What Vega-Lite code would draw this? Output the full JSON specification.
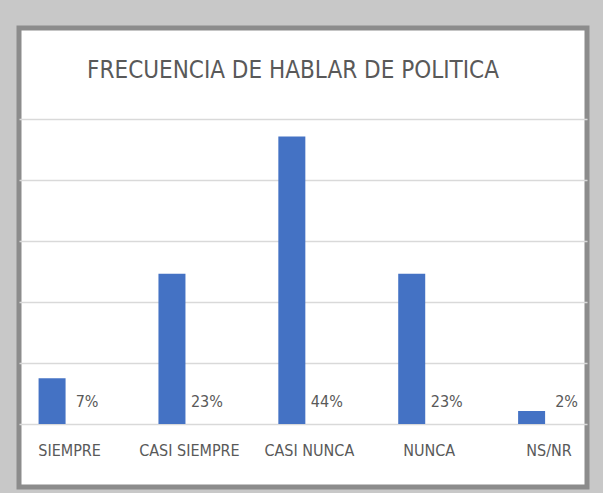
{
  "$schema": "https://vega.github.io/schema/vega-lite/v6.json",
  "width": 568,
  "height": 459,
  "autosize": "none",
  "padding": {"left": 19, "top": 28, "right": 16, "bottom": 6},
  "background": "#c8c8c8",
  "title": {
    "text": "FRECUENCIA DE HABLAR DE POLITICA",
    "anchor": "middle",
    "offset": -74,
    "dx": -10,
    "baseline": "alphabetic",
    "fontSize": 24,
    "font": "Liberation Sans Narrow, DejaVu Sans Condensed, Liberation Sans",
    "fontWeight": "normal",
    "color": "#595959"
  },
  "data": {
    "values": [
      {"categoria": "SIEMPRE", "pct": 7},
      {"categoria": "CASI SIEMPRE", "pct": 23},
      {"categoria": "CASI NUNCA", "pct": 44},
      {"categoria": "NUNCA", "pct": 23},
      {"categoria": "NS/NR", "pct": 2}
    ]
  },
  "encoding": {
    "x": {
      "field": "categoria",
      "type": "nominal",
      "sort": null,
      "scale": {"type": "point", "padding": 0.369, "align": 0.566},
      "axis": {
        "title": null,
        "offset": -63,
        "domain": false,
        "ticks": false,
        "grid": false,
        "labelPadding": 18,
        "labelAngle": 0,
        "labelFont": "Liberation Sans Narrow, DejaVu Sans Condensed, Liberation Sans",
        "labelFontSize": 16,
        "labelColor": "#595959"
      }
    }
  },
  "layer": [
    {
      "mark": {"type": "bar", "width": 27, "xOffset": -17, "color": "#4472C4"},
      "encoding": {
        "y": {
          "field": "pct",
          "type": "quantitative",
          "scale": {"domain": [-9.65, 60.63], "nice": false, "zero": false},
          "axis": {
            "title": null,
            "values": [0, 9.34, 18.68, 28.02, 37.36, 46.7],
            "labels": false,
            "ticks": false,
            "domain": false,
            "grid": true,
            "gridColor": "#d9d9d9",
            "gridWidth": 1.5
          }
        },
        "y2": {"datum": 0}
      }
    },
    {
      "mark": {
        "type": "text",
        "xOffset": 18,
        "dy": -17,
        "baseline": "alphabetic",
        "align": "center",
        "font": "Liberation Sans Narrow, DejaVu Sans Condensed, Liberation Sans",
        "fontSize": 16,
        "color": "#595959",
        "text": {"expr": "datum.pct + '%'"}
      },
      "encoding": {
        "y": {"datum": 0}
      }
    }
  ],
  "config": {
    "view": {"fill": "white", "stroke": "#8c8c8c", "strokeWidth": 5}
  }
}
